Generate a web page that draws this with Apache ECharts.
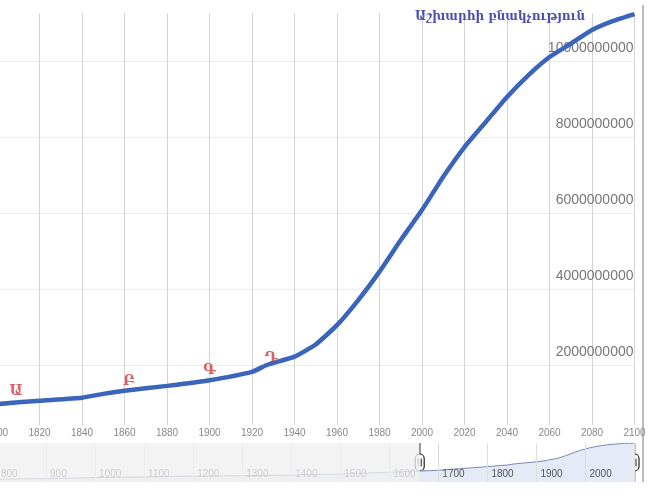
<!DOCTYPE html>
<html>
<head>
<meta charset="utf-8">
<script src="https://cdn.jsdelivr.net/npm/echarts@6/dist/echarts.min.js"></script>
<style>
  html, body { margin: 0; padding: 0; background: #fff; }
  #chart { width: 658px; height: 500px; }
</style>
</head>
<body>
<div id="chart"></div>
<script>
// world population
const years = [1800, 1820, 1840, 1850, 1860, 1880, 1900, 1920, 1927, 1940, 1950, 1960, 1970, 1980, 1990, 2000, 2010, 2020, 2030, 2040, 2050, 2060, 2070, 2080, 2090, 2100]
const population = [0.97e9, 1.06e9, 1.14e9, 1.24e9, 1.32e9, 1.45e9, 1.60e9, 1.82e9, 2.0e9, 2.22e9, 2.54e9, 3.05e9, 3.71e9, 4.46e9, 5.29e9, 6.08e9, 6.96e9, 7.74e9, 8.40e9, 9.06e9, 9.63e9, 10.11e9, 10.46e9, 10.82e9, 11.06e9, 11.24e9]

// earlier years, only visible in the overview strip
const historyYears = [800, 900, 1000, 1100, 1200, 1300, 1400, 1500, 1600, 1700]
const historyPopulation = [0.26e9, 0.28e9, 0.31e9, 0.33e9, 0.36e9, 0.38e9, 0.40e9, 0.45e9, 0.54e9, 0.66e9]

// annotation flags
const noteLetters = ['Ա', 'Բ', 'Գ', 'Դ']
const noteYears = [1809, 1862, 1900, 1929]
const noteValues = [1.30e9, 1.56e9, 1.85e9, 2.18e9]

const titleText = 'Աշխարհի բնակչություն'
const windowStart = 1662
const windowEnd = 2100

const sliderTop = 443
const sliderBottom = 482

const chart = echarts.init(document.getElementById('chart'))

const overviewData = historyYears.map((y, i) => [y, historyPopulation[i]])
  .concat(years.map((y, i) => [y, population[i]]))

const option = {
  animation: false,
  title: {
    text: titleText,
    left: 410,
    top: 6,
    textStyle: {
      fontFamily: "'DejaVu Serif', 'DejaVu Sans', serif",
      fontWeight: 'bold',
      fontSize: 12,
      color: '#4a50ae'
    }
  },
  grid: [
    { left: -3, right: 23.5, top: 13, bottom: 75, outerBoundsMode: 'none' },
    { left: -3, right: 23.5, top: sliderTop, bottom: 500 - sliderBottom, outerBoundsMode: 'none' }
  ],
  xAxis: [
    {
      type: 'value',
      min: 1800,
      max: 2100,
      interval: 20,
      axisLine: { show: false },
      axisTick: { show: false },
      splitLine: { lineStyle: { color: '#d4d4d4' } },
      axisLabel: {
        margin: 3,
        fontSize: 10,
        color: '#888',
        fontFamily: 'Liberation Sans',
        formatter: v => String(v)
      }
    },
    {
      type: 'value',
      gridIndex: 1,
      min: 800,
      max: 2100,
      interval: 100,
      z: 5,
      axisLine: { show: false },
      axisTick: { show: false },
      splitLine: { lineStyle: { color: '#dedede' } },
      axisLabel: {
        inside: true,
        margin: 3,
        align: 'left',
        verticalAlign: 'bottom',
        padding: [0, 0, 0, 4],
        fontSize: 10,
        color: '#555',
        fontFamily: 'Liberation Sans',
        showMaxLabel: false,
        formatter: v => String(v)
      }
    }
  ],
  yAxis: [
    {
      type: 'value',
      position: 'right',
      min: 420000000,
      max: 11270000000,
      axisLine: { show: false },
      axisTick: { show: false },
      splitLine: { showMinLine: false, showMaxLine: false, lineStyle: { color: '#ececec' } },
      axisLabel: {
        inside: true,
        margin: 1,
        verticalAlign: 'bottom',
        padding: [0, 0, 6, 0],
        fontSize: 14,
        color: '#777',
        fontFamily: 'Liberation Sans',
        showMinLabel: false,
        showMaxLabel: false,
        formatter: v => String(v)
      }
    },
    {
      type: 'log',
      gridIndex: 1,
      min: 196000000,
      max: 11300000000,
      show: false
    }
  ],
  series: [
    {
      name: 'population',
      type: 'line',
      data: years.map((y, i) => [y, population[i]]),
      showSymbol: false,
      smooth: 0.15,
      lineStyle: { color: '#3b64bb', width: 4.5 },
      z: 3
    },
    {
      name: 'notes',
      type: 'scatter',
      data: noteYears.map((y, i) => [y, noteValues[i]]),
      symbolSize: 0,
      label: {
        show: true,
        position: 'inside',
        formatter: p => noteLetters[p.dataIndex],
        fontFamily: "'DejaVu Serif', 'DejaVu Sans', serif",
        fontWeight: 'bold',
        fontSize: 14,
        color: '#d23a44'
      },
      z: 4
    },
    {
      name: 'overview',
      type: 'line',
      xAxisIndex: 1,
      yAxisIndex: 1,
      data: overviewData,
      showSymbol: false,
      lineStyle: { color: '#7b8ab3', width: 1 },
      areaStyle: { color: '#e4eaf6', opacity: 1 },
      z: 1
    }
  ]
}

chart.setOption(option)

// overview window: grey out the unselected part and draw the handles
const xStart = chart.convertToPixel({ xAxisIndex: 1 }, windowStart)
const xEnd = chart.convertToPixel({ xAxisIndex: 1 }, windowEnd)
const mid = (sliderTop + sliderBottom) / 2

const handle = x => ({
  type: 'group',
  z: 110,
  children: [
    { type: 'line', shape: { x1: x, y1: sliderTop, x2: x, y2: sliderBottom }, style: { stroke: '#222', lineWidth: 1.5 } },
    { type: 'rect', shape: { x: x - 4.5, y: mid - 8.5, width: 9, height: 17, r: 4.5 }, style: { fill: '#fff', stroke: '#222', lineWidth: 1.2 } },
    { type: 'line', shape: { x1: x - 1.5, y1: mid - 4, x2: x - 1.5, y2: mid + 4 }, style: { stroke: '#222', lineWidth: 1 } },
    { type: 'line', shape: { x1: x + 1.5, y1: mid - 4, x2: x + 1.5, y2: mid + 4 }, style: { stroke: '#222', lineWidth: 1 } }
  ]
})

chart.setOption({
  graphic: [
    {
      type: 'rect',
      z: 100,
      shape: { x: 0, y: sliderTop, width: xStart, height: sliderBottom - sliderTop },
      style: { fill: 'rgba(240,240,240,0.78)' }
    },
    {
      type: 'line',
      z: 100,
      shape: { x1: 643, y1: 5, x2: 643, y2: sliderBottom },
      style: { stroke: '#777', lineWidth: 1 }
    },
    handle(xStart),
    handle(xEnd)
  ]
})
</script>
</body>
</html>
